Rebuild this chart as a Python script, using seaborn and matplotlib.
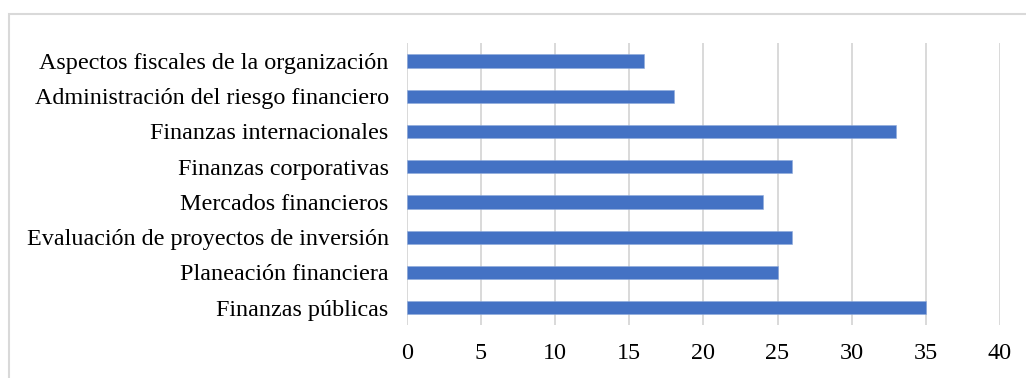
import matplotlib
matplotlib.use("Agg")
import matplotlib.pyplot as plt
import seaborn as sns
import pandas as pd
from matplotlib.patches import Rectangle

# Temas del área financiera (de arriba hacia abajo)
temas = [
    "Aspectos fiscales de la organización",
    "Administración del riesgo financiero",
    "Finanzas internacionales",
    "Finanzas corporativas",
    "Mercados financieros",
    "Evaluación de proyectos de inversión",
    "Planeación financiera",
    "Finanzas públicas",
]
valores = [16, 18, 33, 26, 24, 26, 25, 35]
ticks_x = [0, 5, 10, 15, 20, 25, 30, 35, 40]

BAR_COLOR = "#4472C4"
GRID_COLOR = "#d9d9d9"

sns.set_theme(style="white")
plt.rcParams["font.family"] = ["Liberation Serif", "DejaVu Serif"]

df = pd.DataFrame({"tema": temas, "valor": valores})

fig = plt.figure(figsize=(10.26, 3.78), dpi=100)
ax = fig.add_axes([0.3964, 0.1392, 0.5783, 0.7462])

sns.barplot(data=df, y="tema", x="valor", orient="h", color=BAR_COLOR,
            saturation=1, width=0.38, edgecolor="#8eaadb", linewidth=0.4,
            ax=ax, zorder=3)

ax.set_xlim(0, 40)
ax.set_xticks(ticks_x)
ax.set_xticklabels([str(t) for t in ticks_x])
ax.grid(axis="x", color=GRID_COLOR, linewidth=1.4, zorder=0)
ax.set_xlabel("")
ax.set_ylabel("")
for s in ax.spines.values():
    s.set_visible(False)
ax.tick_params(axis="both", length=0, labelsize=17.4, colors="black")
ax.tick_params(axis="y", pad=13)
ax.tick_params(axis="x", pad=13)

# marco del gráfico
fig.patches.append(Rectangle((9 / 1026, -0.1), 1.2, 1 - 14 / 378 + 0.1,
                             transform=fig.transFigure, fill=False,
                             edgecolor=GRID_COLOR, linewidth=1.5))

plt.savefig("out.png", dpi=100)
plt.close()
